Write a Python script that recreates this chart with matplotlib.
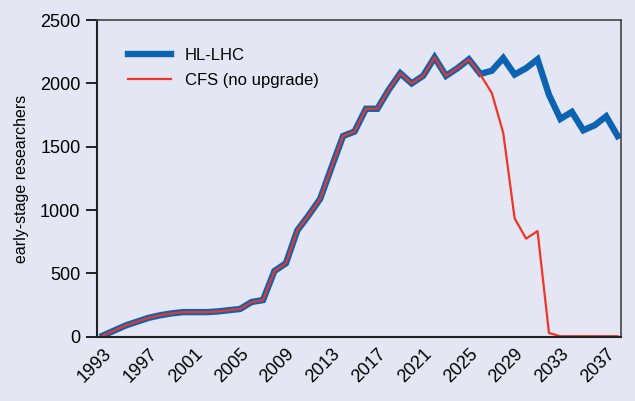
import matplotlib
matplotlib.use("Agg")
import matplotlib.pyplot as plt
import numpy as np

plt.rcParams['font.family'] = ['Liberation Sans', 'DejaVu Sans']

years = list(range(1993, 2039))

hl_lhc = [10, 50, 90, 120, 150, 170, 185, 195, 195, 195,
          200, 210, 220, 275, 290, 520, 580, 840, 960, 1090,
          1340, 1585, 1620, 1800, 1800, 1950, 2080, 2000, 2060, 2205,
          2060, 2120, 2190, 2075, 2100, 2200, 2070, 2120, 2190, 1910,
          1720, 1775, 1630, 1670, 1740, 1585]

cfs = [10, 50, 90, 120, 150, 170, 185, 195, 195, 195,
       200, 210, 220, 275, 290, 520, 580, 840, 960, 1090,
       1340, 1585, 1620, 1800, 1800, 1950, 2080, 2000, 2060, 2205,
       2060, 2120, 2190, 2070, 1925, 1610, 935, 775, 835, 30,
       5, 5, 5, 5, 5, 5]

xticks = list(range(1993, 2039, 4))

bg = '#e4e6f3'
fig = plt.figure(figsize=(6.35, 4.01), dpi=100, facecolor=bg)
ax = fig.add_axes([0.153, 0.160, 0.825, 0.790], facecolor=bg)

ax.plot(years, hl_lhc, color='#0b63b1', lw=4.6, solid_joinstyle='miter', label='HL-LHC')
ax.plot(years, cfs, color='#ee3526', lw=1.6, label='CFS (no upgrade)')

ax.set_xlim(1992.5, 2038.3)
ax.set_ylim(0, 2500)
ax.set_yticks([0, 500, 1000, 1500, 2000, 2500])
ax.set_xticks(xticks)
ax.set_xticklabels([str(y) for y in xticks], rotation=45, ha='right',
                   rotation_mode='anchor', fontsize=13)
ax.tick_params(axis='x', length=0, pad=6)
ax.tick_params(axis='y', length=8, width=1.2, labelsize=13, pad=4)
ax.set_ylabel('early-stage researchers', fontsize=11.5, labelpad=8)

for s in ['left', 'bottom']:
    ax.spines[s].set_color('#222222')
    ax.spines[s].set_linewidth(1.5)
for s in ['top', 'right']:
    ax.spines[s].set_color('#444444')
    ax.spines[s].set_linewidth(1.2)

ax.legend(loc='upper left', frameon=False, fontsize=12, handlelength=2.6,
          bbox_to_anchor=(0.03, 0.96), labelspacing=0.6)

fig.savefig('out.png', dpi=100, facecolor=bg)
